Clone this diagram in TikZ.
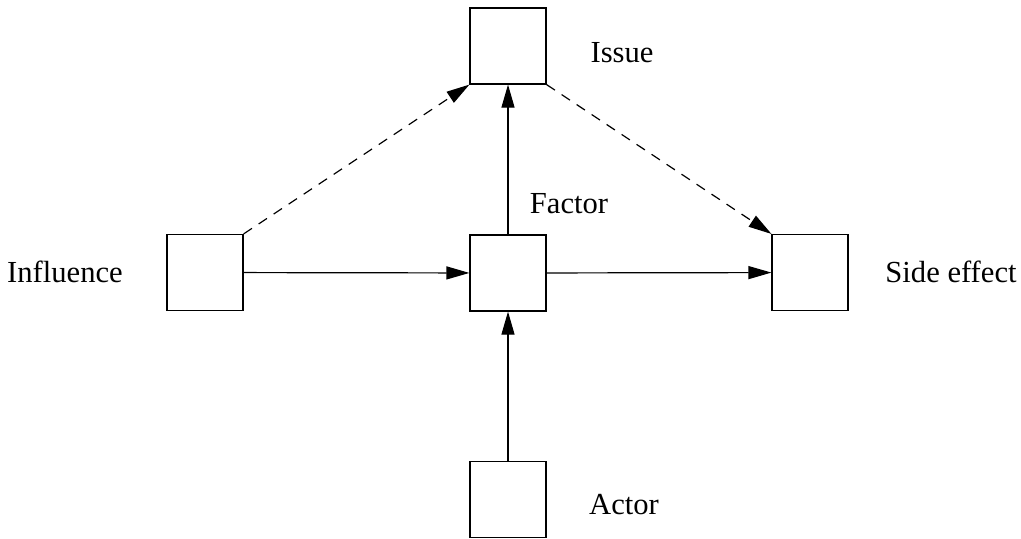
\documentclass[tikz,border=0pt]{standalone}
\usepackage{fontspec}
\setmainfont{Liberation Serif}
\usetikzlibrary{arrows.meta}

\begin{document}
\begin{tikzpicture}[x=0.5pt,y=-0.5pt,
    box/.style={draw, line width=0.6pt, minimum size=38pt, inner sep=0pt},
    lbl/.style={anchor=base, font=\fontsize{15.3pt}{18pt}\selectfont},
    link/.style={line width=0.6pt, -{Triangle[length=11.5pt,width=6.5pt]}},
    dlink/.style={link, dash pattern=on 5pt off 4pt}]
        \useasboundingbox (0,0) rectangle (1021,538);
        % Nodes
        \node[box] (issue)  at (508,46)  {};
        \node[box] (infl)   at (205,272.5) {};
        \node[box] (factor) at (508,273) {};
        \node[box] (side)   at (810,272.5) {};
        \node[box] (actor)  at (508,499.5) {};
        % Labels
        \node[lbl] (issuel)  at (622,62)  {Issue};
        \node[lbl] (infll)   at (65,282)  {Influence};
        \node[lbl] (factorl) at (569,213) {Factor};
        \node[lbl] (sidel)   at (951,282) {Side effect};
        \node[lbl] (actorl)  at (624,514) {Actor};
        % Edges
        \draw[link] (infl) -- (factor);
        \draw[link] (factor) -- (side);
        \draw[link] (actor) -- (factor);
        \draw[link] (factor) -- (issue);
        \draw[dlink] (infl.north east) -- (issue.south west);
        \draw[dlink] (issue.south east) -- (side.north west);
    \end{tikzpicture}
\end{document}
